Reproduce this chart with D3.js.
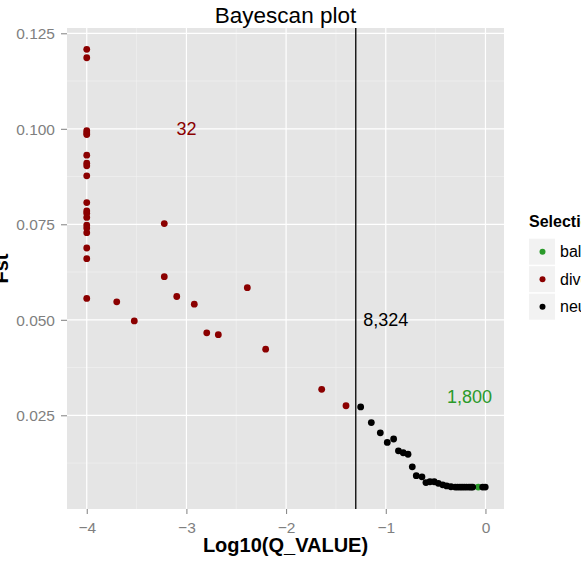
<!DOCTYPE html>
<html>
<head>
<meta charset="utf-8">
<script src="https://cdn.jsdelivr.net/npm/d3@7"></script>
<style>
  body { margin: 0; background: #fff; }
  svg { display: block; font-family: "Liberation Sans", Arial, Helvetica, sans-serif; }
</style>
</head>
<body>
<div id="chart"></div>
<script>
// Data
const divergentX = [-4, -4, -4, -4, -4, -4, -4, -4, -4, -4, -4, -4, -4, -4, -4, -4, -4, -4, -4,
    -3.222, -3.699, -3.523, -3.222, -3.097, -2.921, -2.796, -2.68, -2.389, -2.205, -1.643, -1.399];
const divergentY = [0.1208, 0.1186, 0.0995, 0.0989, 0.0985, 0.0931, 0.0910, 0.0903, 0.0877, 0.0807,
    0.0785, 0.0779, 0.0768, 0.0748, 0.0740, 0.0728, 0.0688, 0.0660, 0.0556,
    0.0752, 0.0547, 0.0497, 0.0613, 0.0561, 0.0541, 0.0466, 0.0461, 0.0584, 0.0423, 0.0318, 0.0275];

const neutralX = [-1.252, -1.145, -1.055, -0.985, -0.921, -0.873, -0.825, -0.777, -0.734, -0.694,
    -0.637, -0.597, -0.557, -0.514, -0.473, -0.429, -0.389, -0.346, -0.303, -0.28, -0.256, -0.235,
    -0.213, -0.19, -0.165, -0.145, -0.128, -0.028, -0.002];
const neutralY = [0.0272, 0.0231, 0.0204, 0.0179, 0.0188, 0.0157, 0.0152, 0.0148, 0.0115, 0.0092,
    0.0089, 0.0074, 0.0076, 0.0076, 0.0072, 0.0068, 0.0065, 0.0063, 0.0062, 0.0062, 0.0062, 0.0062,
    0.0062, 0.0062, 0.0062, 0.0062, 0.0062, 0.0062, 0.0062];

const balancingX = [-0.072];
const balancingY = [0.0062];

const xTicks = [-4, -3, -2, -1, 0];
const yTicks = [0.025, 0.050, 0.075, 0.100, 0.125];
const qThreshold = Math.log10(0.05);

const annotations = [
    { text: "32", x: -3, y: 0.100, group: "divergent" },
    { text: "8,324", x: -1, y: 0.050, group: "neutral" },
    { text: "1,800", x: -0.16, y: 0.030, group: "balancing" }
];

const groups = ["balancing", "divergent", "neutral"];
const colors = { balancing: "#2a9a2a", divergent: "#8b0000", neutral: "#000000" };

const width = 581, height = 566;
const panel = { left: 67, top: 28, right: 504, bottom: 509 };

const svg = d3.select("#chart").append("svg")
    .attr("width", width)
    .attr("height", height);

const x = d3.scaleLinear().domain([-4.198, 0.186]).range([panel.left, panel.right]);
const y = d3.scaleLinear().domain([0.00047, 0.12639]).range([panel.bottom, panel.top]);

// panel background
svg.append("rect")
    .attr("x", panel.left).attr("y", panel.top)
    .attr("width", panel.right - panel.left)
    .attr("height", panel.bottom - panel.top)
    .attr("fill", "#e5e5e5");

// minor grid
const xMinor = [-3.5, -2.5, -1.5, -0.5];
const yMinor = [0.0125, 0.0375, 0.0625, 0.0875, 0.1125];
svg.selectAll(".xminor").data(xMinor).join("line")
    .attr("x1", d => x(d)).attr("x2", d => x(d))
    .attr("y1", panel.top).attr("y2", panel.bottom)
    .attr("stroke", "#f2f2f2").attr("stroke-width", 0.6);
svg.selectAll(".yminor").data(yMinor).join("line")
    .attr("y1", d => y(d)).attr("y2", d => y(d))
    .attr("x1", panel.left).attr("x2", panel.right)
    .attr("stroke", "#f2f2f2").attr("stroke-width", 0.6);

// major grid
svg.selectAll(".xmajor").data(xTicks).join("line")
    .attr("x1", d => x(d)).attr("x2", d => x(d))
    .attr("y1", panel.top).attr("y2", panel.bottom)
    .attr("stroke", "#fff").attr("stroke-width", 1.2);
svg.selectAll(".ymajor").data(yTicks).join("line")
    .attr("y1", d => y(d)).attr("y2", d => y(d))
    .attr("x1", panel.left).attr("x2", panel.right)
    .attr("stroke", "#fff").attr("stroke-width", 1.2);

// axes
const xAxis = svg.append("g")
    .attr("transform", `translate(0,${panel.bottom})`)
    .call(d3.axisBottom(x).tickValues(xTicks).tickSize(5).tickPadding(8)
        .tickFormat(d => d < 0 ? "\u2212" + Math.abs(d) : d));
const yAxis = svg.append("g")
    .attr("transform", `translate(${panel.left},0)`)
    .call(d3.axisLeft(y).tickValues(yTicks).tickSize(6).tickPadding(6)
        .tickFormat(d3.format(".3f")));

[xAxis, yAxis].forEach(ax => {
    ax.select(".domain").remove();
    ax.selectAll(".tick line").attr("stroke", "#7f7f7f");
    ax.selectAll(".tick text")
        .attr("fill", "#7f7f7f")
        .style("font-size", "15.5px")
        .style("font-family", "'Liberation Sans', Arial, sans-serif");
});
yAxis.selectAll(".tick text").attr("dy", "0.36em");

// threshold line
svg.append("line")
    .attr("x1", x(qThreshold)).attr("x2", x(qThreshold))
    .attr("y1", panel.top).attr("y2", panel.bottom)
    .attr("stroke", "#000").attr("stroke-width", 1.3);

// points
function drawPoints(xs, ys, group) {
    svg.append("g").selectAll("circle")
        .data(xs.map((d, i) => [d, ys[i]]))
        .join("circle")
        .attr("cx", d => x(d[0]))
        .attr("cy", d => y(d[1]))
        .attr("r", 3.4)
        .attr("fill", colors[group]);
}
drawPoints(balancingX, balancingY, "balancing");
drawPoints(divergentX, divergentY, "divergent");
drawPoints(neutralX, neutralY, "neutral");

// count labels
svg.selectAll(".annot").data(annotations).join("text")
    .attr("x", d => x(d.x))
    .attr("y", d => y(d.y))
    .attr("dy", "0.36em")
    .attr("text-anchor", "middle")
    .style("font-size", "18px")
    .attr("fill", d => colors[d.group])
    .text(d => d.text);

// titles
svg.append("text")
    .attr("x", (panel.left + panel.right) / 2)
    .attr("y", 22.5)
    .attr("text-anchor", "middle")
    .style("font-size", "22.5px")
    .text("Bayescan plot");

svg.append("text")
    .attr("x", (panel.left + panel.right) / 2)
    .attr("y", 552)
    .attr("text-anchor", "middle")
    .style("font-size", "20px")
    .style("font-weight", "bold")
    .text("Log10(Q_VALUE)");

svg.append("text")
    .attr("transform", `translate(8,${(panel.top + panel.bottom) / 2}) rotate(-90)`)
    .attr("text-anchor", "middle")
    .style("font-size", "20px")
    .style("font-weight", "bold")
    .text("Fst");

// legend
const legend = svg.append("g").attr("transform", "translate(529,0)");
legend.append("text")
    .attr("x", 0).attr("y", 227)
    .style("font-size", "16px")
    .style("font-weight", "bold")
    .text("Selection");

const keys = legend.selectAll(".key").data(groups).join("g")
    .attr("transform", (d, i) => `translate(0,${251.7 + i * 27.5})`);
keys.append("rect")
    .attr("x", 0).attr("y", -13)
    .attr("width", 26).attr("height", 26)
    .attr("fill", "#f2f2f2");
keys.append("circle")
    .attr("cx", 13.5).attr("cy", 0).attr("r", 3)
    .attr("fill", d => colors[d]);
keys.append("text")
    .attr("x", 31).attr("y", 0).attr("dy", "0.36em")
    .style("font-size", "16px")
    .text(d => d);
</script>
</body>
</html>
